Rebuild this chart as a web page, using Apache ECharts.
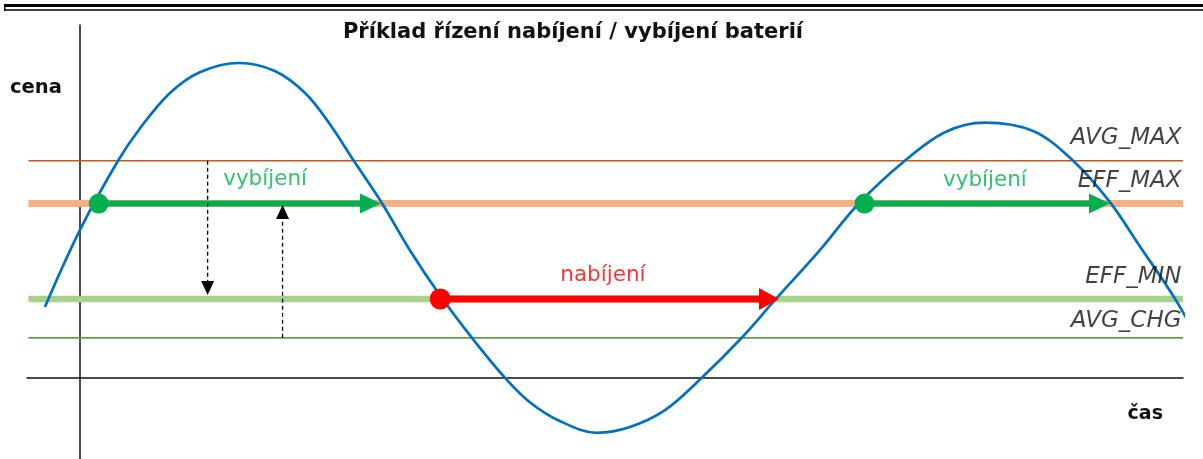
<!DOCTYPE html>
<html>
<head>
<meta charset="utf-8">
<title>Příklad řízení nabíjení / vybíjení baterií</title>
<script src="https://cdn.jsdelivr.net/npm/echarts@6/dist/echarts.min.js"></script>
<style>
  html, body { margin: 0; padding: 0; background: #fff; }
  #chart { width: 1203px; height: 459px; }
</style>
</head>
<body>
<div id="chart"></div>
<script>
// time in hours (0 = price axis), price in arbitrary units (0 = time axis)
const priceTime = [-0.76, 0, 0.83, 1.31, 1.96, 2.61, 3.46, 4.24, 4.90, 5.44,
  5.96, 6.57, 7.18, 7.83, 8.53, 9.25, 9.79, 10.44, 11.25, 11.97,
  12.73, 13.53, 14.40, 15.12, 16.10, 16.93, 17.91, 18.82, 19.69, 20.74,
  21.61, 22.41, 23.06, 23.83, 24.43];
const priceValue = [17.7, 36.9, 54.25, 62.4, 71.2, 76.4, 78.7, 76.7, 71.2, 63.4,
  54.25, 43.7, 31.9, 20.7, 10, 0, -6.1, -10.8, -13.75, -12.3,
  -8.1, 0, 10, 19.4, 31.9, 43.4, 53.9, 61.4, 63.8, 61.7,
  54.25, 43.9, 32.9, 19.7, 7.4];

const levelNames = ['AVG_MAX', 'EFF_MAX', 'EFF_MIN', 'AVG_CHG'];
const levelValues = [54.25, 43.55, 19.7, 10];
const levelStart = -1.12;
const levelEnd = 24;

// discharge (green) and charge (red) arrows: start time, end time
const dischargeFrom = [0.41, 17.07];
const dischargeTo = [6.55, 22.41];
const chargeFrom = [7.84];
const chargeTo = [15.21];

// dashed margin arrows: time, price from, price to
const marginTime = [2.78, 4.41];
const marginFrom = [54.25, 10];
const marginTo = [20.7, 43.2];

const noteText = ['vybíjení', 'nabíjení', 'vybíjení'];
const noteTime = [4.03, 11.38, 19.69];
const notePrice = [49.7, 25.7, 49.4];

const FONT = '"DejaVu Sans"';
const levelColors = ['#c55a11', '#f4b183', '#a9d18e', '#6a994e'];
const levelWidths = [1.5, 7, 6.5, 1.8];
const levelLabelDy = [-23, -23, -22, -17];
const noteColors = ['#00b050', '#ff0000', '#00b050'];

const arrowStyles = [
  { color: '#00b050', width: 6, head: 21, half: 10, dot: 10 },
  { color: '#ff0000', width: 7, head: 20, half: 11, dot: 10.5 },
  { color: '#000000', width: 1.3, head: 14, half: 6.5, dot: 0, dash: [4, 3] }
];

const arrowData = [];
dischargeFrom.forEach((t, i) => arrowData.push([t, levelValues[1], dischargeTo[i], levelValues[1], 0]));
chargeFrom.forEach((t, i) => arrowData.push([t, levelValues[2], chargeTo[i], levelValues[2], 1]));
marginTime.forEach((t, i) => arrowData.push([t, marginFrom[i], t, marginTo[i], 2]));

function renderArrow(params, api) {
  const a = api.coord([api.value(0), api.value(1)]);
  const b = api.coord([api.value(2), api.value(3)]);
  const st = arrowStyles[api.value(4)];
  const dx = b[0] - a[0], dy = b[1] - a[1];
  const len = Math.sqrt(dx * dx + dy * dy);
  const ux = dx / len, uy = dy / len;
  const bx = b[0] - ux * st.head, by = b[1] - uy * st.head;
  const children = [
    {
      type: 'line',
      shape: { x1: a[0], y1: a[1], x2: bx + ux, y2: by + uy },
      style: { stroke: st.color, lineWidth: st.width, lineDash: st.dash || null }
    },
    {
      type: 'polygon',
      shape: { points: [[b[0], b[1]], [bx - uy * st.half, by + ux * st.half], [bx + uy * st.half, by - ux * st.half]] },
      style: { fill: st.color }
    }
  ];
  if (st.dot) {
    children.push({ type: 'circle', shape: { cx: a[0], cy: a[1], r: st.dot }, style: { fill: st.color } });
  }
  return { type: 'group', children };
}

const series = levelNames.map((name, i) => ({
  name,
  type: 'line',
  data: [[levelStart, levelValues[i]], [levelEnd, levelValues[i]]],
  showSymbol: false,
  clip: false,
  silent: true,
  z: 1,
  lineStyle: { color: levelColors[i], width: levelWidths[i] }
}));

series.push({
  name: 'cena',
  type: 'line',
  data: priceTime.map((t, i) => [t, priceValue[i]]),
  smooth: 0.35,
  showSymbol: false,
  clip: false,
  z: 3,
  lineStyle: { color: '#0070c0', width: 2.7 }
});

series.push({
  type: 'custom',
  renderItem: renderArrow,
  data: arrowData,
  clip: false,
  z: 4
});

series.push({
  type: 'scatter',
  data: levelNames.map((name, i) => ({
    value: [levelEnd, levelValues[i]],
    name,
    label: { offset: [0, levelLabelDy[i]] }
  })),
  symbolSize: 1,
  clip: false,
  itemStyle: { color: 'transparent' },
  z: 5,
  label: {
    show: true,
    position: 'left',
    distance: 1,
    formatter: p => p.name,
    fontFamily: FONT,
    fontStyle: 'italic',
    fontSize: 23,
    color: '#111'
  }
});

series.push({
  type: 'scatter',
  data: noteText.map((text, i) => ({
    value: [noteTime[i], notePrice[i]],
    name: text,
    label: { color: noteColors[i] }
  })),
  symbolSize: 1,
  clip: false,
  itemStyle: { color: 'transparent' },
  z: 5,
  label: {
    show: true,
    position: 'inside',
    formatter: p => p.name,
    fontFamily: FONT,
    fontSize: 21.5
  }
});

const chart = echarts.init(document.getElementById('chart'));
chart.setOption({
  animation: false,
  backgroundColor: '#fff',
  title: {
    text: 'Příklad řízení nabíjení / vybíjení baterií',
    left: 573,
    top: 22,
    padding: 0,
    textAlign: 'center',
    textStyle: { fontFamily: FONT, fontWeight: 'bold', fontSize: 21, color: '#111' }
  },
  graphic: [
    { type: 'line', shape: { x1: 4, y1: 5.5, x2: 1203, y2: 5.5 }, style: { stroke: '#000', lineWidth: 3 } },
    { type: 'line', shape: { x1: 4.75, y1: 4, x2: 4.75, y2: 11 }, style: { stroke: '#000', lineWidth: 1.5 } },
    { type: 'line', shape: { x1: 4, y1: 10, x2: 1203, y2: 10 }, style: { stroke: '#000', lineWidth: 1.5 } }
  ],
  grid: { left: 27, right: 20, top: 25, bottom: 0, containLabel: false, outerBoundsMode: 'none' },
  xAxis: {
    type: 'value',
    min: -1.15,
    max: 24,
    name: 'čas',
    nameLocation: 'end',
    nameGap: -20,
    nameTextStyle: { fontFamily: FONT, fontWeight: 'bold', fontSize: 19, color: '#111', align: 'right', verticalAlign: 'top', padding: [27, 0, 0, 0] },
    axisLine: { onZero: true, lineStyle: { color: '#111', width: 1.5 } },
    axisTick: { show: false },
    axisLabel: { show: false },
    splitLine: { show: false }
  },
  yAxis: {
    type: 'value',
    min: -20.3,
    max: 88.2,
    name: 'cena',
    nameLocation: 'end',
    nameGap: -63,
    nameTextStyle: { fontFamily: FONT, fontWeight: 'bold', fontSize: 19.5, color: '#111', align: 'right', verticalAlign: 'middle', padding: [0, 18, 0, 0] },
    axisLine: { onZero: true, lineStyle: { color: '#111', width: 1.5 } },
    axisTick: { show: false },
    axisLabel: { show: false },
    splitLine: { show: false }
  },
  series
});
</script>
</body>
</html>
